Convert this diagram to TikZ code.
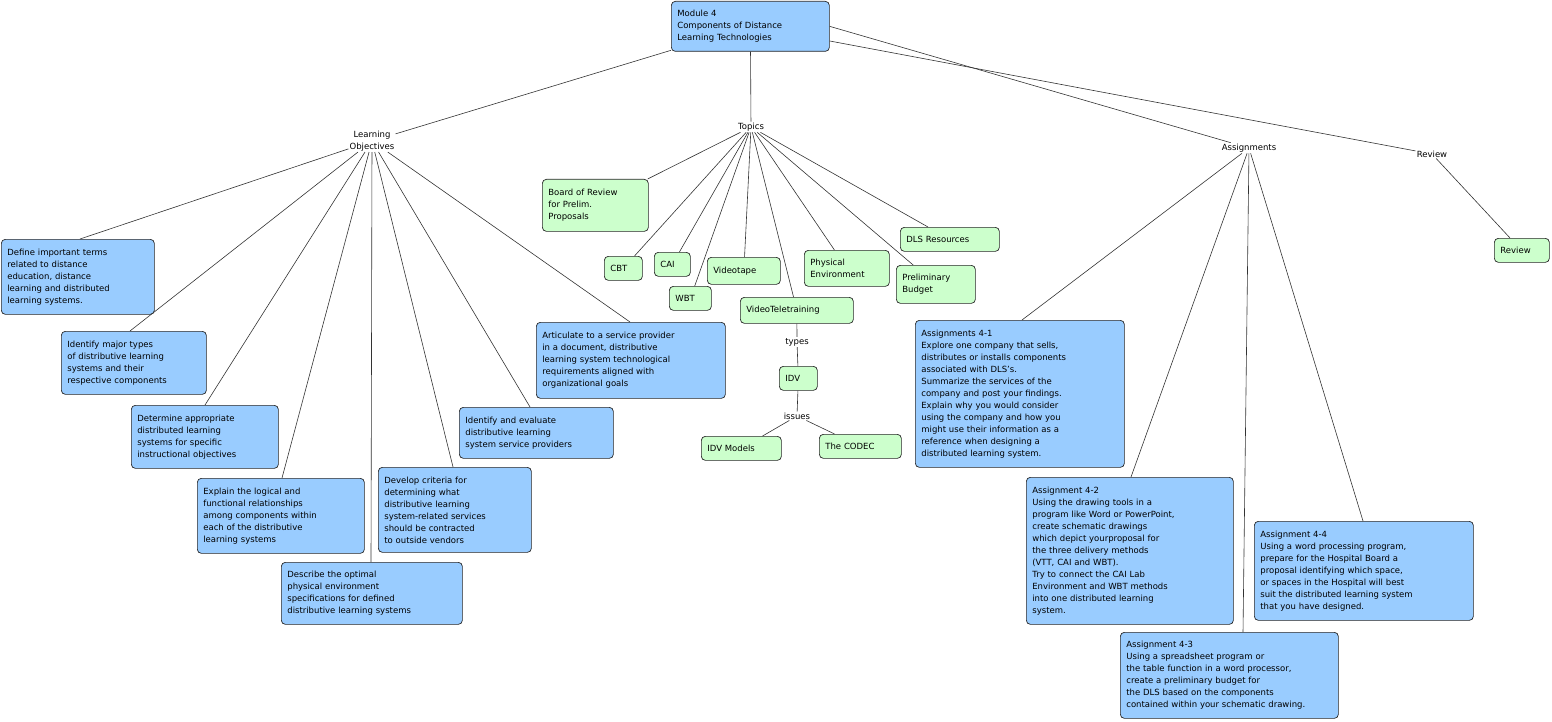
\documentclass[tikz,border=0pt]{standalone}
\usepackage{fontspec}
\setmainfont{DejaVu Sans}
\begin{document}
\definecolor{bl}{RGB}{153,204,255}
\definecolor{gr}{RGB}{204,255,204}
\newcommand\bx[7]{\pgfmathsetmacro\bw{#4-#2}\pgfmathsetmacro\bh{#5-#3}\pgfmathsetmacro\tw{#4-#2-12}%
\node[box,fill=#6,minimum width=\bw pt,minimum height=\bh pt,text width=\tw pt] (#1) at (#2,#3) {#7};}
\begin{tikzpicture}[x=1pt,y=-1pt,
 box/.style={draw=black!85,line width=0.7pt,rounded corners=4pt,align=left,anchor=north west,inner xsep=6pt,inner ysep=0pt,font=\fontsize{8.5}{12}\selectfont},
 lbl/.style={align=center,inner sep=1pt,font=\fontsize{8.5}{11.5}\selectfont},
 ln/.style={draw=black!80,line width=0.6pt}]
\useasboundingbox (0,0) rectangle (1552,722);
\bx{mod}{671}{1}{829}{51}{bl}{Module 4\\Components of Distance\\Learning Technologies}
\node[lbl] (lo) at (372,141) {Learning\\Objectives};
\node[lbl] (top) at (751,127) {Topics};
\node[lbl] (as) at (1249,148) {Assignments};
\node[lbl] (rv) at (1432,154) {Review};
\bx{def}{1}{239}{154}{314}{bl}{Define important terms\\related to distance\\education, distance\\learning and distributed\\learning systems.}
\bx{idm}{61}{331}{206}{394}{bl}{Identify major types\\of distributive learning\\systems and their\\respective components}
\bx{det}{131}{405}{278}{468}{bl}{Determine appropriate\\distributed learning\\systems for specific\\instructional objectives}
\bx{exl}{197}{478}{364}{553}{bl}{Explain the logical and\\functional relationships\\among components within\\each of the distributive\\learning systems}
\bx{des}{281}{562}{462}{624}{bl}{Describe the optimal\\physical environment\\specifications for defined\\distributive learning systems}
\bx{dev}{378}{467}{531}{552}{bl}{Develop criteria for\\determining what\\distributive learning\\system-related services\\should be contracted\\to outside vendors}
\bx{ide}{459}{407}{613}{458}{bl}{Identify and evaluate\\distributive learning\\system service providers}
\bx{art}{536}{322}{725}{398}{bl}{Articulate to a service provider\\in a document, distributive\\learning system technological\\requirements aligned with\\organizational goals}
\bx{bor}{542}{179}{648}{231}{gr}{Board of Review\\for Prelim.\\Proposals}
\bx{cbt}{604}{256}{642}{280}{gr}{CBT}
\bx{cai}{654}{252}{690}{276}{gr}{CAI}
\bx{wbt}{669}{286}{711}{310}{gr}{WBT}
\bx{vt}{707}{257}{780}{284}{gr}{Videotape}
\bx{pe}{804}{250}{889}{286}{gr}{Physical\\Environment}
\bx{pb}{896}{265}{975}{303}{gr}{Preliminary\\Budget}
\bx{dls}{900}{227}{999}{251}{gr}{DLS Resources}
\bx{vtt}{740}{297}{853}{323}{gr}{VideoTeletraining}
\node[lbl,fill=white] (ty) at (797,342) {types};
\bx{idv}{779}{366}{817}{390}{gr}{IDV}
\node[lbl,fill=white] (is) at (797,416) {issues};
\bx{idvm}{701}{436}{781}{460}{gr}{IDV Models}
\bx{cod}{819}{434}{901}{458}{gr}{The CODEC}
\bx{rvb}{1494}{238}{1549}{262}{gr}{Review}
\bx{a1}{915}{320}{1124}{467}{bl}{Assignments 4-1\\Explore one company that sells,\\distributes or installs components\\associated with DLS's.\\Summarize the services of the\\company and post your findings.\\Explain why you would consider\\using the company and how you\\might use their information as a\\reference when designing a\\distributed learning system.}
\bx{a2}{1026}{477}{1233}{624}{bl}{Assignment 4-2\\Using the drawing tools in a\\program like Word or PowerPoint,\\create schematic drawings\\which depict yourproposal for\\the three delivery methods\\(VTT, CAI and WBT).\\Try to connect the CAI Lab\\Environment and WBT methods\\into one distributed learning\\system.}
\bx{a3}{1120}{632}{1338}{718}{bl}{Assignment 4-3\\Using a spreadsheet program or\\the table function in a word processor,\\create a preliminary budget for\\the DLS based on the components\\contained within your schematic drawing.}
\bx{a4}{1254}{521}{1473}{620}{bl}{Assignment 4-4\\Using a word processing program,\\prepare for the Hospital Board a\\proposal identifying which space,\\or spaces in the Hospital will best\\suit the distributed learning system\\that you have designed.}
\draw[ln] (mod) -- (lo); \draw[ln] (mod) -- (top); \draw[ln] (mod.east) -- (as); \draw[ln] (mod.north east) ++(0,40) -- (rv);
\foreach \n/\p in {def/80,idm/130,det/205,exl/282,des/371,dev/453,ide/530,art/630}{\draw[ln] (lo) -- (\n.north west -| \p,0);}
\foreach \n in {bor,cbt,cai,wbt,vt,pe,pb,dls,vtt}{\draw[ln] (top) -- (\n);}
\draw[ln] (as) -- (a1.north west -| 1022,0); \draw[ln] (as) -- (a2.north west -| 1131,0);
\draw[ln] (as) -- (a3.north west -| 1243,0); \draw[ln] (as) -- (a4.north west -| 1363,0);
\draw[ln] (rv) -- (rvb.north west -| 1510,0);
\draw[ln] (vtt) -- (ty) -- (idv) -- (is) -- (idvm); \draw[ln] (is) -- (cod);
\end{tikzpicture}
\end{document}
